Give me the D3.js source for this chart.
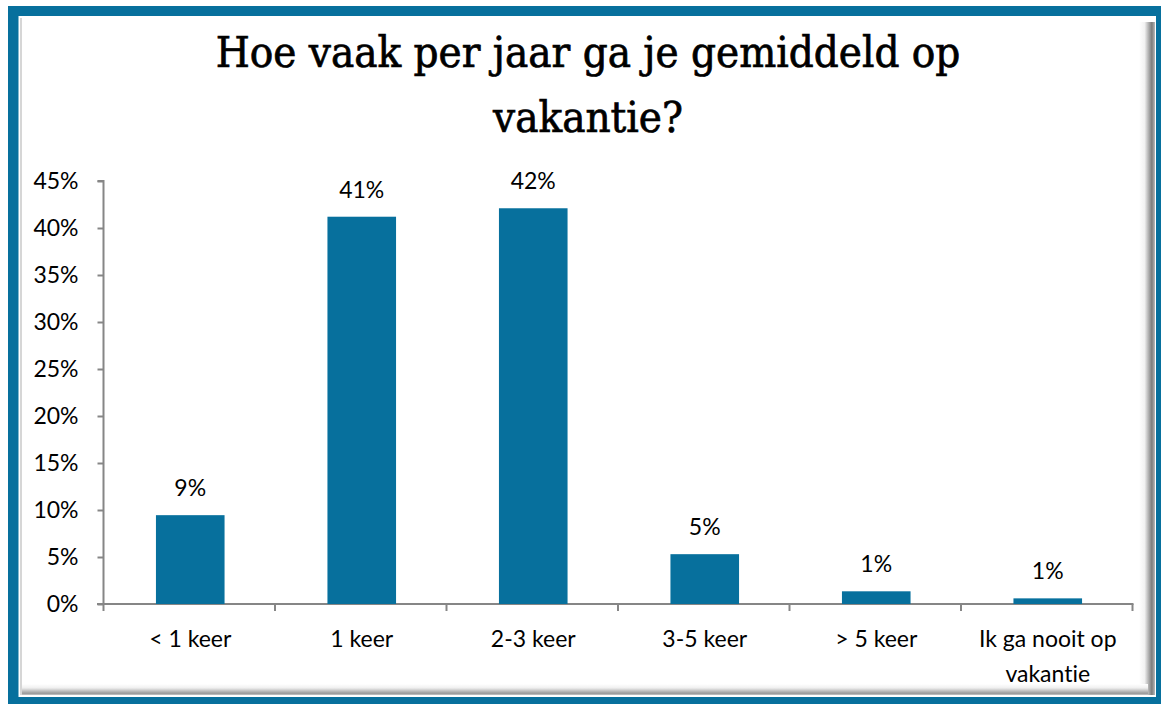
<!DOCTYPE html>
<html><head><meta charset="utf-8">
<script src="https://cdn.jsdelivr.net/npm/d3@7/dist/d3.min.js"></script>
<style>html,body{margin:0;padding:0;background:#fff;}svg{display:block;}text{font-variant-ligatures:none;font-feature-settings:"liga" 0;}</style>
</head><body>
<svg id="chart" width="1161" height="704"></svg>
<script>
const titleLines = ["Hoe vaak per jaar ga je gemiddeld op", "vakantie?"];
const categories = ["< 1 keer", "1 keer", "2-3 keer", "3-5 keer", "> 5 keer", "Ik ga nooit op vakantie"];
const categoryLines = [["< 1 keer"], ["1 keer"], ["2-3 keer"], ["3-5 keer"], ["> 5 keer"], ["Ik ga nooit op", "vakantie"]];
const values = [9.45, 41.2, 42.1, 5.3, 1.35, 0.6];
const valueLabels = ["9%", "41%", "42%", "5%", "1%", "1%"];
const yTicks = [0, 5, 10, 15, 20, 25, 30, 35, 40, 45];

const svg = d3.select("#chart");
const teal = "#07709d";
const axisColor = "#868686";
const sansFont = "Lato, 'Open Sans', sans-serif";

// frame
const defs = svg.append("defs");
const gR = defs.append("linearGradient").attr("id","gR").attr("x1","0").attr("x2","1").attr("y1","0").attr("y2","0");
gR.append("stop").attr("offset","0").attr("stop-color","#ffffff");
gR.append("stop").attr("offset","0.35").attr("stop-color","#f2f2f2");
gR.append("stop").attr("offset","0.8").attr("stop-color","#7c7c7c");
gR.append("stop").attr("offset","1").attr("stop-color","#b8b8b8");
const gB = defs.append("linearGradient").attr("id","gB").attr("x1","0").attr("x2","0").attr("y1","0").attr("y2","1");
gB.append("stop").attr("offset","0").attr("stop-color","#ffffff");
gB.append("stop").attr("offset","0.35").attr("stop-color","#f0f0f0");
gB.append("stop").attr("offset","0.85").attr("stop-color","#9a9a9a");
gB.append("stop").attr("offset","1").attr("stop-color","#c8c8c8");

svg.append("rect").attr("x",8).attr("y",6).attr("width",1153).attr("height",698).attr("fill",teal);
svg.append("rect").attr("x",18.5).attr("y",16).attr("width",1137.5).attr("height",681).attr("fill","#ffffff");
svg.append("rect").attr("x",20).attr("y",16).attr("width",1136).attr("height",679).attr("fill","#ffffff");
svg.append("rect").attr("x",1139).attr("y",22).attr("width",16).attr("height",673).attr("fill","url(#gR)");
svg.append("rect").attr("x",22).attr("y",684).attr("width",1126).attr("height",11).attr("fill","url(#gB)");
svg.append("rect").attr("x",20).attr("y",18).attr("width",2).attr("height",677).attr("fill","#d6d6d6");

// title
const title = svg.append("g");
const titleY = [67, 132];
titleLines.forEach((t,i)=>{
  title.append("text").attr("x",588).attr("y",titleY[i]).attr("text-anchor","middle")
    .attr("font-family","'DejaVu Serif Condensed', 'DejaVu Serif', serif").attr("font-size",34)
    .attr("fill","#000").attr("stroke","#000").attr("stroke-width",0.7).text(t);
});
// fit title width to reference (first line ~745px)
const t0 = title.select("text").node();
const w0 = t0.getComputedTextLength();
const fs = 34 * 745 / w0;
title.selectAll("text").attr("font-size", Math.max(28, Math.min(fs, 44)));

// scales
const x = d3.scaleBand().domain(categories).range([104.5, 1133.5]).paddingInner(0.6).paddingOuter(0.3);
const y = d3.scaleLinear().domain([0,45]).range([604,181]);

// y axis
const yAxis = svg.append("g").attr("transform","translate(103.5,0)")
  .call(d3.axisLeft(y).tickValues(yTicks).tickFormat(d=>d+"%").tickSize(6).tickPadding(19));
yAxis.select(".domain").attr("stroke",axisColor).attr("stroke-width",2).attr("d","M-6,181H0V604H-6");
yAxis.selectAll(".tick line").attr("stroke",axisColor).attr("stroke-width",2);
yAxis.selectAll(".tick text").attr("font-family",sansFont).attr("font-size",23).attr("fill","#000");

// x axis
const xAxisG = svg.append("g").attr("transform","translate(0,604)");
xAxisG.append("line").attr("x1",97).attr("x2",1133.5).attr("y1",0).attr("y2",0).attr("stroke",axisColor).attr("stroke-width",2);
const step = (1132.5-103.5)/categories.length;
d3.range(categories.length+1).forEach(i=>{
  const bx = 103.5 + i*step;
  xAxisG.append("line").attr("x1",bx).attr("x2",bx).attr("y1",0).attr("y2",7).attr("stroke",axisColor).attr("stroke-width",2);
});

// bars
svg.append("g").selectAll("rect").data(values).join("rect")
  .attr("x",(d,i)=>x(categories[i]))
  .attr("y",d=>y(d))
  .attr("width",x.bandwidth())
  .attr("height",d=>604-y(d))
  .attr("fill",teal);

// value labels
svg.append("g").selectAll("text").data(values).join("text")
  .attr("x",(d,i)=>x(categories[i])+x.bandwidth()/2)
  .attr("y",d=>y(d)-19)
  .attr("text-anchor","middle")
  .attr("font-family",sansFont).attr("font-size",23).attr("fill","#000")
  .text((d,i)=>valueLabels[i]);

// category labels
const cl = svg.append("g");
categoryLines.forEach((lines,i)=>{
  const cx = x(categories[i])+x.bandwidth()/2;
  lines.forEach((ln,j)=>{
    cl.append("text").attr("x",cx).attr("y",647+j*34.5).attr("text-anchor","middle")
      .attr("font-family",sansFont).attr("font-size",23).attr("fill","#000").text(ln);
  });
});
</script>
</body></html>
